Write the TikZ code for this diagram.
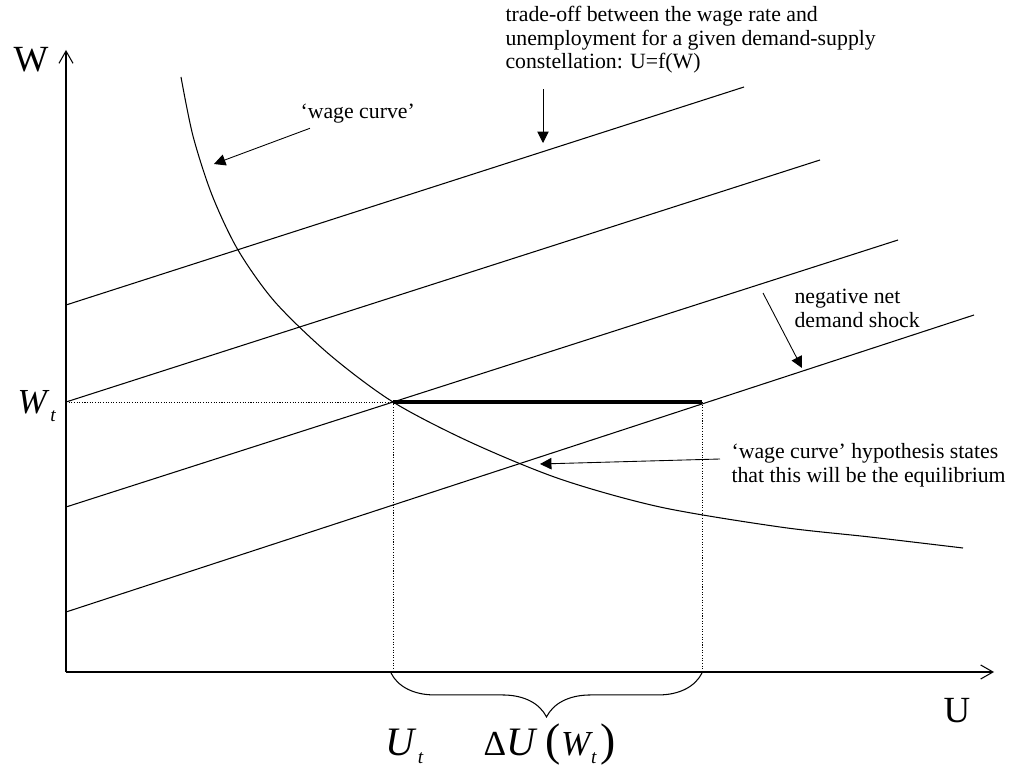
\documentclass[tikz,border=0pt]{standalone}
\usepackage{fontspec}
\setmainfont{Liberation Serif}
\usetikzlibrary{arrows.meta,decorations.pathreplacing,positioning}

\newcommand{\lowsub}[1]{\kern0.5pt\raisebox{-5pt}{\fontsize{11}{11}\selectfont\itshape #1}}

\begin{document}
\begin{tikzpicture}[x=0.02cm, y=-0.02cm, line width=0.6pt,
    note/.style={align=left, inner sep=0pt, anchor=north west, font=\fontsize{12.4}{13.4}\selectfont},
    axislabel/.style={inner sep=0pt, anchor=base west, font=\fontsize{21}{21}\selectfont},
    pointer/.style={-{Triangle[length=6.5pt,width=6.5pt]}, line width=0.5pt},
    axis/.style={-{Straight Barb[length=7pt,width=8pt]}, line width=0.6pt},
    guide/.style={dash pattern=on 0.6pt off 0.9pt, line width=0.4pt}]
    \useasboundingbox (0,0) rectangle (1015,767);
    \coordinate (origin) at (66,672);
    \coordinate (wend) at (66,50);
    \coordinate (uend) at (994,672);
    \draw[axis] (origin) -- (wend);
    \draw[axis] (origin) -- (uend);
    \foreach \ya/\xb/\yb in {305/744/87, 402/820/160, 507/898/240, 612/974/315}
        \draw (66,\ya) -- (\xb,\yb);
    \draw plot[smooth, tension=0.5] coordinates {(181,77) (193,136) (212,195) (238,250) (275,302) (330,355) (393,402) (470,442) (560,479) (660,507) (780,527) (870,537) (963,548)};
    \coordinate (eq) at (393,402);
    \coordinate (shockend) at (702,402);
    \draw[guide] (66,402) -- (eq) -- (393,672);
    \draw[guide] (shockend) -- (702,672);
    \draw[line width=2.8pt] (eq) -- (shockend);
    \draw[decorate, decoration={brace, mirror, amplitude=25pt}] (391,673) -- (702,673);
    \node[axislabel] (wlab) at (13,72) {W};
    \node[axislabel] (ulab) at (943,722) {U};
    \node[axislabel, font=\fontsize{20}{20}\selectfont] (wt) at (17,413) {\textit{W}\lowsub{t}};
    \node[axislabel, font=\fontsize{23}{23}\selectfont] (ut) at (385,755) {\textit{U}\lowsub{t}};
    \node[axislabel] (du) at (483,755) {{\fontsize{20}{20}\selectfont Δ}{\fontsize{23}{23}\selectfont\itshape U}\kern6pt{\fontsize{26}{26}\selectfont (}{\fontsize{20}{20}\selectfont\itshape W}\lowsub{t}\kern2pt{\fontsize{26}{26}\selectfont )}};
    \node[note] (tradeoff) at (505,6) {trade-off between the wage rate and\\unemployment for a given demand-supply\\constellation: U=f(W)};
    \node[note] (wclab) at (300,103) {‘wage curve’};
    \node[note] (shock) at (794,289) {negative net\\demand shock};
    \node[note] (hyp) at (731,443) {‘wage curve’ hypothesis states\\that this will be the equilibrium};
    \coordinate (wcpt) at (214,164);
    \coordinate (l1pt) at (543,143);
    \coordinate (l4pt) at (802,368);
    \coordinate (eqpt) at (540,464);
    \draw[pointer] (wclab.south west) ++(10,5) -- (wcpt);
    \draw[pointer] (tradeoff.south west) ++(38,15) -- (l1pt);
    \draw[pointer] (shock.north west) ++(-31,4) -- (l4pt);
    \draw[pointer] (hyp.north west) ++(-11,16) -- (eqpt);
\end{tikzpicture}
\end{document}
